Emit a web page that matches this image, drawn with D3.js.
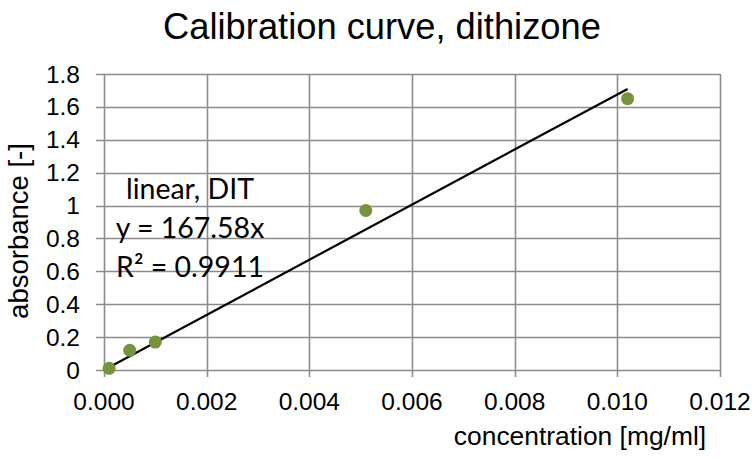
<!DOCTYPE html>
<html>
<head>
<meta charset="utf-8">
<script src="https://cdn.jsdelivr.net/npm/d3@7"></script>
<style>
  html, body { margin: 0; padding: 0; background: #fff; }
  svg { display: block; }
</style>
</head>
<body>
<svg id="chart" width="755" height="459"></svg>
<script>
// Measured concentrations (mg/ml) and absorbances for dithizone
const concentration = [0.0001, 0.0005, 0.0010, 0.0051, 0.0102];
const absorbance = [0.01, 0.12, 0.17, 0.97, 1.65];

// Linear fit through the origin
const slope = 167.58;
const rSquared = "0.9911";

const xTicks = [0, 0.002, 0.004, 0.006, 0.008, 0.010, 0.012];
const yTicks = [0, 0.2, 0.4, 0.6, 0.8, 1, 1.2, 1.4, 1.6, 1.8];
const yTickLabels = ["0", "0.2", "0.4", "0.6", "0.8", "1", "1.2", "1.4", "1.6", "1.8"];

const titleText = "Calibration curve, dithizone";
const xTitle = "concentration [mg/ml]";
const yTitle = "absorbance [-]";
const fitLabel = ["linear, DIT", "y = " + slope + "x", "R\u00B2 = " + rSquared];

const svg = d3.select("#chart");
const plot = { left: 104, right: 720, top: 74, bottom: 370 };

const x = d3.scaleLinear().domain([0, 0.012]).range([plot.left, plot.right]);
const y = d3.scaleLinear().domain([0, 1.8]).range([plot.bottom, plot.top]);

const gridColor = "#8c8c8c";
const axisFont = "Arial, 'Liberation Sans', sans-serif";

// Horizontal gridlines
svg.append("g").selectAll("line").data(yTicks).join("line")
  .attr("x1", plot.left - 8).attr("x2", plot.right)
  .attr("y1", d => Math.round(y(d)) + 0.5).attr("y2", d => Math.round(y(d)) + 0.5)
  .attr("stroke", gridColor).attr("stroke-width", 1.6);

// Vertical gridlines
svg.append("g").selectAll("line").data(xTicks).join("line")
  .attr("x1", d => Math.round(x(d)) + 0.5).attr("x2", d => Math.round(x(d)) + 0.5)
  .attr("y1", plot.top).attr("y2", plot.bottom + 7)
  .attr("stroke", gridColor).attr("stroke-width", 1.6);

// Y tick labels
svg.append("g").selectAll("text").data(yTicks).join("text")
  .attr("x", 80).attr("y", d => y(d))
  .attr("dy", "0.35em")
  .attr("text-anchor", "end")
  .attr("font-family", axisFont).attr("font-size", 24.5).attr("fill", "#000")
  .text((d, i) => yTickLabels[i]);

// X tick labels
svg.append("g").selectAll("text").data(xTicks).join("text")
  .attr("x", d => x(d)).attr("y", 410)
  .attr("text-anchor", "middle")
  .attr("font-family", axisFont).attr("font-size", 24.5).attr("fill", "#000")
  .text(d => d3.format(".3f")(d));

// Trendline across the data range
const xMin = d3.min(concentration), xMax = d3.max(concentration);
svg.append("line")
  .attr("x1", x(xMin)).attr("y1", y(slope * xMin))
  .attr("x2", x(xMax)).attr("y2", y(slope * xMax))
  .attr("stroke", "#000").attr("stroke-width", 2.2);

// Data points
svg.append("g").selectAll("circle").data(concentration).join("circle")
  .attr("cx", d => x(d)).attr("cy", (d, i) => y(absorbance[i]))
  .attr("r", 6.5)
  .attr("fill", "#77933C");

// Fit equation label
svg.append("g").selectAll("text").data(fitLabel).join("text")
  .attr("x", 190).attr("y", (d, i) => 199 + i * 39)
  .attr("text-anchor", "middle")
  .attr("font-family", "Lato, 'Open Sans', sans-serif").attr("font-size", 28.5).attr("fill", "#000")
  .text(d => d);

// Chart title
svg.append("text")
  .attr("x", 382).attr("y", 39)
  .attr("text-anchor", "middle")
  .attr("font-family", axisFont).attr("font-size", 36.3).attr("fill", "#000")
  .text(titleText);

// Axis titles
svg.append("text")
  .attr("x", 580).attr("y", 445)
  .attr("text-anchor", "middle")
  .attr("font-family", axisFont).attr("font-size", 26.4).attr("fill", "#000")
  .text(xTitle);

svg.append("text")
  .attr("transform", "translate(28,231) rotate(-90)")
  .attr("text-anchor", "middle")
  .attr("font-family", axisFont).attr("font-size", 27.5).attr("fill", "#000")
  .text(yTitle);
</script>
</body>
</html>
